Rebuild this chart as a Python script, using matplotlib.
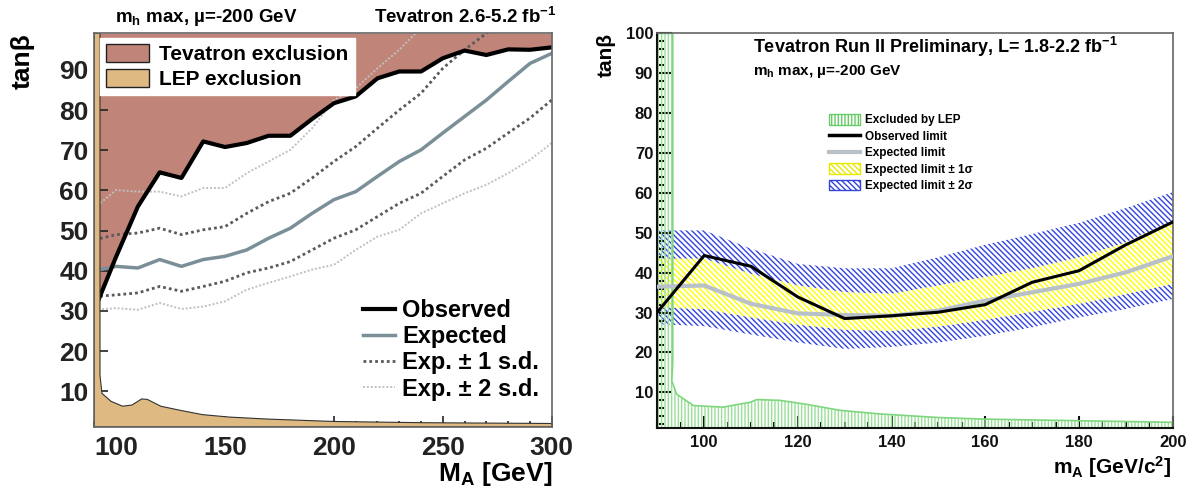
import matplotlib
matplotlib.use('Agg')
import matplotlib.pyplot as plt
from matplotlib.patches import Patch
from matplotlib.lines import Line2D
from matplotlib.ticker import MultipleLocator

plt.rcParams['font.family'] = ['Liberation Sans', 'DejaVu Sans']
plt.rcParams['font.weight'] = 'bold'
plt.rcParams['mathtext.fontset'] = 'custom'
plt.rcParams['mathtext.rm'] = 'Liberation Sans:bold'
plt.rcParams['mathtext.it'] = 'Liberation Sans:bold'
plt.rcParams['mathtext.bf'] = 'Liberation Sans:bold'
plt.rcParams['hatch.linewidth'] = 1.0

# ---- left panel data (Tevatron 2.6-5.2 fb-1) ----
mass_l = [90, 100, 110, 120, 130, 140, 150, 160, 170, 180, 190, 200, 210,
          220, 230, 240, 250, 260, 270, 280, 290, 300]
observed_l = [30.2, 43.5, 56.0, 64.5, 63.1, 72.2, 70.8, 71.8, 73.6, 73.6, 77.8,
              81.7, 83.4, 87.9, 89.6, 89.6, 92.9, 94.8, 93.7, 95.1, 95.0, 95.6]
expected_l = [40.0, 41.1, 40.7, 42.8, 41.1, 42.8, 43.6, 45.2, 48.1, 50.6, 54.3,
              57.7, 59.7, 63.5, 67.2, 70.1, 74.3, 78.4, 82.5, 87.1, 91.6, 94.1]
plus1_l = [47.7, 49.0, 49.4, 50.6, 49.0, 50.2, 51.0, 54.3, 57.2, 59.3, 63.1,
           67.2, 70.9, 75.5, 80.0, 84.2, 90.4, 95.0, 99.1, 103.0]
minus1_l = [33.6, 34.0, 34.5, 36.1, 34.9, 36.1, 37.4, 39.5, 40.7, 42.3, 45.2,
            48.1, 50.2, 53.5, 56.8, 59.3, 63.5, 67.6, 70.5, 74.3, 78.0, 82.5]
plus2_l = [55.6, 60.1, 59.7, 59.7, 58.5, 60.6, 60.6, 64.3, 67.2, 70.1, 75.5,
           82.5, 85.4, 90.4, 95.0, 100.5]
minus2_l = [30.3, 30.7, 30.3, 32.0, 30.5, 31.1, 32.4, 35.3, 37.0, 38.6, 40.3,
            41.5, 45.2, 48.5, 50.2, 54.3, 56.8, 59.3, 61.4, 64.3, 67.6, 71.8]
lep_l_x = [90, 92.6, 92.6, 93.5, 97.7, 103, 107.3, 111.7, 114.3, 120.5, 129.2,
           139.7, 151.9, 169.4, 200, 240, 300]
lep_l_y = [99.1, 99.1, 14.0, 9.5, 7.5, 6.3, 6.6, 8.1, 8.0, 6.3, 5.3,
           4.2, 3.6, 3.1, 2.5, 2.2, 2.0]

# ---- right panel data (Run II preliminary, 1.8-2.2 fb-1) ----
mass_r = [90, 100, 110, 120, 130, 140, 150, 160, 170, 180, 190, 200]
observed_r = [30.1, 44.3, 41.6, 33.9, 28.5, 29.2, 30.1, 32.0, 37.6, 40.5, 47.0, 52.7]
expected_r = [36.5, 36.8, 32.2, 29.8, 29.4, 29.2, 30.5, 33.0, 35.1, 37.2, 40.1, 44.1]
up1_r = [43.5, 43.5, 39.7, 36.8, 35.1, 34.7, 36.8, 38.9, 41.1, 43.8, 47.6, 53.0]
lo1_r = [31.3, 30.9, 28.8, 27.0, 25.7, 25.4, 26.5, 28.2, 30.2, 32.2, 34.7, 37.2]
up2_r = [50.6, 50.6, 46.0, 42.2, 41.1, 41.1, 43.9, 47.0, 49.7, 52.5, 56.2, 60.2]
lo2_r = [27.1, 26.6, 24.5, 22.5, 20.9, 21.4, 22.5, 24.2, 26.3, 28.8, 30.9, 33.4]
lep_r_x = [90, 93.3, 93.3, 93.1, 94.1, 97.7, 104.1, 107.7, 109.8, 111.2, 116.2,
           121.9, 129, 137.5, 150, 160, 180, 200]
lep_r_y = [100, 100, 17.5, 12.9, 9.6, 6.7, 6.3, 7.1, 7.5, 8.2, 8.0,
           7.0, 5.5, 4.6, 3.7, 3.3, 2.9, 2.5]

fig = plt.figure(figsize=(11.94, 5), dpi=100)

# ================= left panel =================
ax1 = fig.add_axes([0.0790, 0.1466, 0.3831, 0.7868])
ymin_l, ymax_l = 1.2, 99.1
tev_col = '#c08479'
lep_col = '#deba82'

ax1.fill_between(mass_l, observed_l, ymax_l, color=tev_col, lw=0, zorder=1)
ax1.plot(mass_l[:len(plus2_l)], plus2_l, color='#c0c0c0', lw=1.4, ls=(0, (1, 1)), zorder=2)
ax1.plot(mass_l, minus2_l, color='#c0c0c0', lw=1.4, ls=(0, (1, 1)), zorder=2)
ax1.plot(mass_l[:len(plus1_l)], plus1_l, color='#5a5a5a', lw=2, ls=(0, (1, 1.1)), zorder=3)
ax1.plot(mass_l, minus1_l, color='#5a5a5a', lw=2, ls=(0, (1, 1.1)), zorder=3)
ax1.plot(mass_l, expected_l, color='#7b8f99', lw=2.5, zorder=4)
ax1.plot(mass_l, observed_l, color='black', lw=3, zorder=5)
ax1.fill(lep_l_x + [300, 90], lep_l_y + [ymin_l, ymin_l], facecolor=lep_col,
         edgecolor='#333333', lw=0.8, zorder=6)

ax1.set_xlim(90, 300)
ax1.set_ylim(ymin_l, ymax_l)
ax1.set_xticks([100, 150, 200, 250, 300])
ax1.set_yticks([10, 20, 30, 40, 50, 60, 70, 80, 90])
ax1.xaxis.set_minor_locator(MultipleLocator(10))
ax1.yaxis.set_minor_locator(MultipleLocator(2))
ax1.tick_params(which='both', direction='in', top=False, right=False,
                colors='#222222', width=1.2, labelsize=19)
ax1.tick_params(axis='y', which='major', length=10, pad=4)
ax1.tick_params(axis='y', which='minor', length=4)
ax1.tick_params(axis='x', which='major', length=8, pad=7)
ax1.tick_params(axis='x', which='minor', length=4)
for sp in ax1.spines.values():
    sp.set_color('#666666')
    sp.set_linewidth(1.2)
    sp.set_zorder(10)

leg1 = ax1.legend(handles=[Patch(facecolor=tev_col, edgecolor='#222222', lw=1),
                           Patch(facecolor=lep_col, edgecolor='#222222', lw=1)],
                  labels=['Tevatron exclusion', 'LEP exclusion'],
                  loc='upper left', bbox_to_anchor=(0.012, 0.988), fontsize=15,
                  handlelength=2.05, handleheight=0.9, handletextpad=0.5,
                  labelspacing=0.25, borderpad=0.3, borderaxespad=0,
                  fancybox=False, framealpha=1, edgecolor='white')
leg1.set_zorder(11)
ax1.add_artist(leg1)

leg2 = ax1.legend(handles=[Line2D([], [], color='black', lw=3),
                           Line2D([], [], color='#7b8f99', lw=2.5),
                           Line2D([], [], color='#5a5a5a', lw=2, ls=(0, (1, 1.1))),
                           Line2D([], [], color='#c0c0c0', lw=1.4, ls=(0, (1, 1)))],
                  labels=['Observed', 'Expected', 'Exp. \u00b1 1 s.d.', 'Exp. \u00b1 2 s.d.'],
                  loc='upper left', bbox_to_anchor=(0.588, 0.325), fontsize=17,
                  handlelength=1.35, handletextpad=0.3, labelspacing=0.14,
                  borderpad=0, borderaxespad=0, frameon=False)
leg2.set_zorder(11)

fig.text(115 / 1194, 1 - 17 / 500, 'm$_{\\rm h}$ max, \u00b5=-200 GeV',
         fontsize=13.5, ha='left', va='center')
fig.text(557 / 1194, 1 - 17 / 500, r'Tevatron 2.6-5.2 fb$^{-1}$',
         fontsize=13.5, ha='right', va='center')
fig.text(23 / 1194, 1 - 33 / 500, 'tan\u03b2', fontsize=19, rotation=90,
         ha='center', va='top')
fig.text(552 / 1194, 1 - 474 / 500, r'M$_{\rm A}$ [GeV]', fontsize=19,
         ha='right', va='center')

# ================= right panel =================
ax2 = fig.add_axes([0.5505, 0.1434, 0.4317, 0.79])
ax2.fill_between(mass_r, up1_r, up2_r, facecolor='none', edgecolor='#3344dd',
                 hatch='\\' * 6, lw=0, zorder=1)
ax2.fill_between(mass_r, lo2_r, lo1_r, facecolor='none', edgecolor='#3344dd',
                 hatch='\\' * 6, lw=0, zorder=1)
ax2.fill_between(mass_r, lo1_r, up1_r, facecolor='none', edgecolor='#ffff00',
                 hatch='\\' * 6, lw=0, zorder=1)
ax2.fill(lep_r_x + [200, 90], lep_r_y + [1, 1], facecolor='none',
         edgecolor='#99e099', hatch='|' * 5, lw=0, zorder=2)
ax2.plot(lep_r_x, lep_r_y, color='#7fd67f', lw=1.2, zorder=2)
ax2.plot(mass_r, expected_r, color='#b7c1c7', lw=3, zorder=3)
ax2.plot(mass_r, observed_r, color='black', lw=2.2, zorder=4)

ax2.set_xlim(90, 200)
ax2.set_ylim(1, 100)
ax2.set_xticks([100, 120, 140, 160, 180, 200])
ax2.set_yticks([10, 20, 30, 40, 50, 60, 70, 80, 90, 100])
ax2.xaxis.set_minor_locator(MultipleLocator(5))
ax2.yaxis.set_minor_locator(MultipleLocator(2))
ax2.tick_params(which='both', direction='in', top=False, right=False,
                colors='#111111', width=1.5, labelsize=12)
ax2.tick_params(axis='y', which='major', length=11, pad=3)
ax2.tick_params(axis='y', which='minor', length=5)
ax2.tick_params(axis='x', which='major', length=8.5, pad=5)
ax2.tick_params(axis='x', which='minor', length=4.5)
for side in ['top', 'right']:
    ax2.spines[side].set_color('#666666')
    ax2.spines[side].set_linewidth(1.2)
for side in ['bottom', 'left']:
    ax2.spines[side].set_color('#111111')
    ax2.spines[side].set_linewidth(1.5)

leg3 = ax2.legend(handles=[Patch(facecolor='none', edgecolor='#66cc66', hatch='|' * 5, lw=1),
                           Line2D([], [], color='black', lw=2.5),
                           Line2D([], [], color='#b7c1c7', lw=3),
                           Patch(facecolor='none', edgecolor='#e8e800', hatch='\\' * 6, lw=1),
                           Patch(facecolor='none', edgecolor='#3344dd', hatch='\\' * 6, lw=1)],
                  labels=['Excluded by LEP', 'Observed limit', 'Expected limit',
                          'Expected limit \u00b1 1\u03c3', 'Expected limit \u00b1 2\u03c3'],
                  loc='upper left', bbox_to_anchor=(829 / 1194, 1 - 114 / 500),
                  bbox_transform=fig.transFigure, fontsize=8.5,
                  handlelength=2.6, handleheight=1.0, handletextpad=0.45,
                  labelspacing=0.35, borderpad=0, borderaxespad=0, frameon=False)

fig.text(753 / 1194, 1 - 47 / 500, r'Tevatron Run II Preliminary, L= 1.8-2.2 fb$^{-1}$',
         fontsize=13, ha='left', va='center')
fig.text(753 / 1194, 1 - 72 / 500, 'm$_{\\rm h}$ max, \u00b5=-200 GeV',
         fontsize=11, ha='left', va='center')
fig.text(606 / 1194, 1 - 33 / 500, 'tan\u03b2', fontsize=15, rotation=90,
         ha='center', va='top')
fig.text(1172 / 1194, 1 - 467 / 500, r'm$_{\rm A}$ [GeV/c$^{\rm 2}$]', fontsize=15,
         ha='right', va='center')

fig.savefig('out.png', dpi=100)
